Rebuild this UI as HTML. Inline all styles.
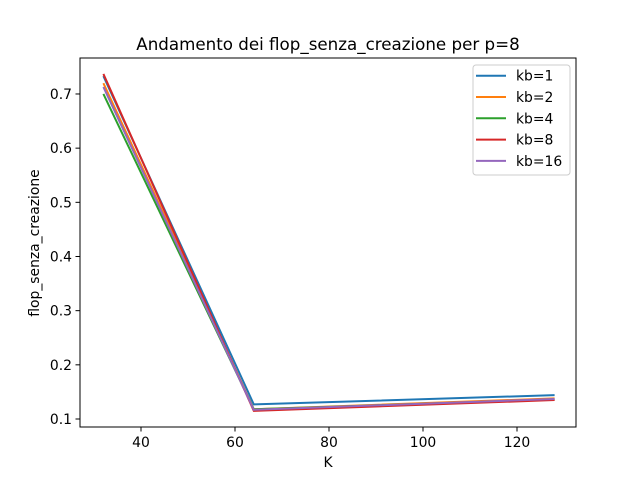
<!DOCTYPE html>
<html><head><meta charset="utf-8"><style>body{margin:0;background:#fff}svg{font-family:"DejaVu Sans","Liberation Sans",sans-serif}</style></head>
<body>
<svg id="c" width="640" height="480">
<rect x="0" y="0" width="640" height="480" fill="#fff"/>
</svg>
<script>
const xs = [32, 64, 128];
const names = ["kb=1","kb=2","kb=4","kb=8","kb=16"];
const colors = ["#1f77b4","#ff7f0e","#2ca02c","#d62728","#9467bd"];
const kb1 = [0.733, 0.127, 0.144];
const kb2 = [0.720, 0.118, 0.138];
const kb4 = [0.700, 0.118, 0.136];
const kb8 = [0.737, 0.115, 0.135];
const kb16 = [0.713, 0.117, 0.137];
const series = [kb1, kb2, kb4, kb8, kb16];
const xticks = [40, 60, 80, 100, 120];
const yticks = [0.1, 0.2, 0.3, 0.4, 0.5, 0.6, 0.7];
const NS = "http://www.w3.org/2000/svg";
const svg = document.getElementById('c');
const L=80,R=576,T=58,B=427;
const sx = v => 141 + (v-40)*4.7;
const sy = v => 419 - (v-0.1)*541.7;
function mk(tag, attrs, parent){const e=document.createElementNS(NS,tag);for(const k in attrs)e.setAttribute(k,attrs[k]);(parent||svg).appendChild(e);return e;}
series.forEach((s,i)=>{
  const p = mk('polyline',{points:s.map((v,j)=>sx(xs[j])+','+sy(v)).join(' '),fill:'none',stroke:colors[i],'stroke-width':2});
  
  
});
const frame = mk('rect',{x:L,y:T,width:R-L,height:B-T,fill:'none',stroke:'#000','stroke-width':1});


xticks.forEach(t=>{
  mk('line',{x1:sx(t),x2:sx(t),y1:B,y2:B+4.5,stroke:'#000','stroke-width':1});
  const tx = mk('text',{x:sx(t),y:B+20,'text-anchor':'middle','font-size':13.9});
  tx.textContent=t;
  
  
});
yticks.forEach(t=>{
  mk('line',{x1:L-4.5,x2:L,y1:sy(t),y2:sy(t),stroke:'#000','stroke-width':1});
  const tx = mk('text',{x:L-8,y:sy(t)+5,'text-anchor':'end','font-size':13.9});
  tx.textContent=t.toFixed(1);
  
  
});
const title = mk('text',{x:328,y:50,'text-anchor':'middle','font-size':16.7});
title.textContent='Andamento dei flop_senza_creazione per p=8';


const xl = mk('text',{x:328,y:467,'text-anchor':'middle','font-size':13.9});
xl.textContent='K';


const yl = mk('text',{x:0,y:0,'text-anchor':'middle','font-size':13.9,transform:'translate(39,243) rotate(-90)'});
yl.textContent='flop_senza_creazione';


const lg = mk('g',{});


mk('rect',{x:473,y:65,width:97,height:110,rx:3,fill:'#fff',stroke:'#ccc','stroke-width':1},lg);
names.forEach((n,i)=>{
  const y=75.7+i*21.3;
  const ln = mk('line',{x1:476,x2:506,y1:y,y2:y,stroke:colors[i],'stroke-width':2},lg);
  
  
  const t = mk('text',{x:516,y:y+5,'font-size':13.9},lg);
  t.textContent=n;
  
  
});
</script>
</body></html>
